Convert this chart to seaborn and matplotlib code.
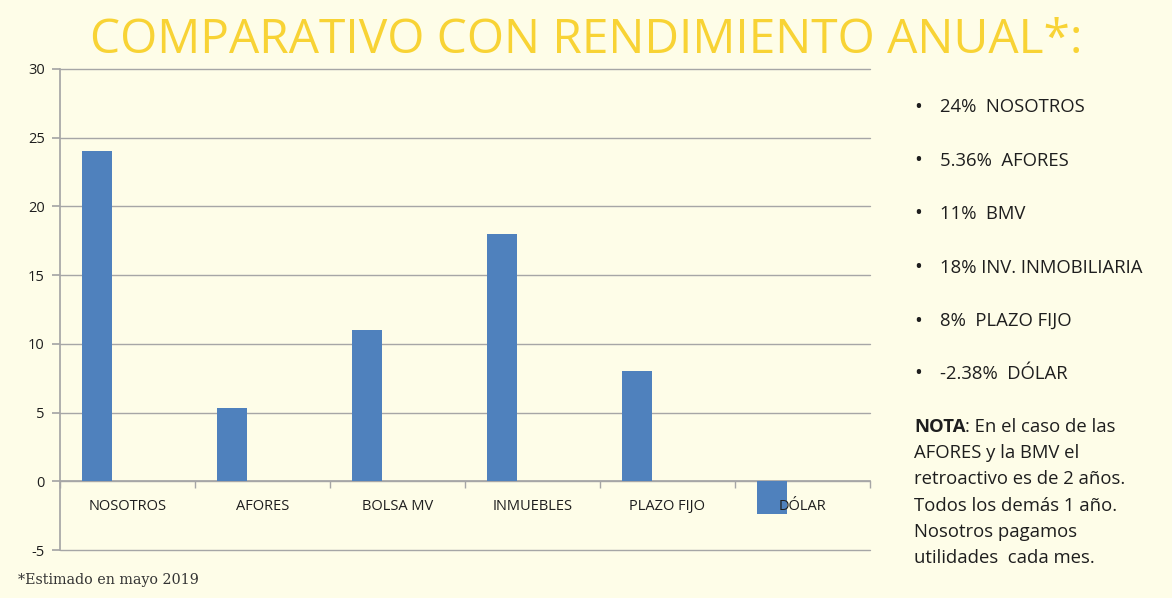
import numpy as np
import pandas as pd
import matplotlib.pyplot as plt
import seaborn as sns

# Data
categories = ["NOSOTROS", "AFORES", "BOLSA MV", "INMUEBLES", "PLAZO FIJO", "DÓLAR"]
rendimiento = [24, 5.36, 11, 18, 8, -2.38]
series_order = ["Serie 1", "Serie 2", "Serie 3"]   # only Serie 1 has values (Excel layout)
y_ticks = [-5, 0, 5, 10, 15, 20, 25, 30]

bullets = ["24%  NOSOTROS", "5.36%  AFORES", "11%  BMV",
           "18% INV. INMOBILIARIA", "8%  PLAZO FIJO", "-2.38%  DÓLAR"]
note_first = ": En el caso de las"
note_lines = ["AFORES y la BMV el", "retroactivo es de 2 años.",
              "Todos los demás 1 año.", "Nosotros pagamos", "utilidades  cada mes."]

rows = []
for s in series_order:
    vals = rendimiento if s == "Serie 1" else [np.nan] * len(categories)
    for c, v in zip(categories, vals):
        rows.append({"categoria": c, "valor": v, "serie": s})
df = pd.DataFrame(rows)

bg = "#FEFDE8"
blue = "#4F81BD"
grid_c = "#A6A6A6"
txt_c = "#1E1E1E"

sns.set_theme(style="white")
plt.rcParams['font.family'] = ['Open Sans', 'DejaVu Sans']
plt.rcParams['axes.unicode_minus'] = False

fig = plt.figure(figsize=(11.72, 5.98), dpi=100, facecolor=bg)
ax = fig.add_axes([60 / 1172, 1 - 550 / 598, 810 / 1172, 481 / 598])
ax.set_facecolor(bg)

sns.barplot(data=df, x="categoria", y="valor", hue="serie", hue_order=series_order,
            order=categories, palette=[blue] * 3, width=0.667, saturation=1,
            dodge=True, linewidth=0, legend=False, ax=ax)

ax.set_xlim(-0.5, len(categories) - 0.5)
ax.set_ylim(-5, 30)
ax.set_yticks(y_ticks)
ax.yaxis.grid(True, color=grid_c, linewidth=1)
for gl in ax.get_ygridlines():
    gl.set_clip_on(False)
ax.set_axisbelow(True)
ax.xaxis.set_zorder(3)
ax.set_xlabel("")
ax.set_ylabel("")

for s in ["top", "right"]:
    ax.spines[s].set_visible(False)
ax.spines["left"].set_color(grid_c)
ax.spines["bottom"].set_position(("data", 0))
ax.spines["bottom"].set_color(grid_c)
ax.spines["bottom"].set_zorder(0.5)

ax.set_xticks([i - 0.5 for i in range(len(categories) + 1)], minor=True)
ax.tick_params(axis="x", which="major", length=0, pad=13, labelsize=10.5, labelcolor=txt_c)
ax.tick_params(axis="x", which="minor", length=5, color=grid_c, direction="out", bottom=True)
ax.tick_params(axis="y", length=6, color=grid_c, left=True, pad=5, labelsize=10.5, labelcolor=txt_c)

# Title
fig.text(0.5, 1 - 40 / 598, "COMPARATIVO CON RENDIMIENTO ANUAL*:", ha="center", va="center",
         fontsize=34.5, color="#F8D335")

# Right-hand bullet list
bullet_y = [107, 161, 214, 268, 321, 374]
for txt, y in zip(bullets, bullet_y):
    fig.text(914 / 1172, 1 - y / 598, "•", ha="left", va="center", fontsize=15, color=txt_c)
    fig.text(940 / 1172, 1 - y / 598, txt, ha="left", va="center", fontsize=13.3, color=txt_c)

# Note
nota = fig.text(914 / 1172, 1 - 427 / 598, "NOTA", ha="left", va="center", fontsize=13.3,
                color=txt_c, fontweight="bold")
ax.annotate(note_first, xy=(1, 0.5), xycoords=nota, ha="left", va="center",
            fontsize=13.3, color=txt_c, annotation_clip=False)
for i, line in enumerate(note_lines):
    y = 427 + (i + 1) * 26.2
    fig.text(914 / 1172, 1 - y / 598, line, ha="left", va="center", fontsize=13.3, color=txt_c)

# Footnote
fig.text(18 / 1172, 1 - 580 / 598, "*Estimado en mayo 2019", ha="left", va="center",
         fontsize=10.3, color="#333333", family=["DejaVu Serif"])

fig.savefig("out.png", dpi=100, facecolor=bg)
